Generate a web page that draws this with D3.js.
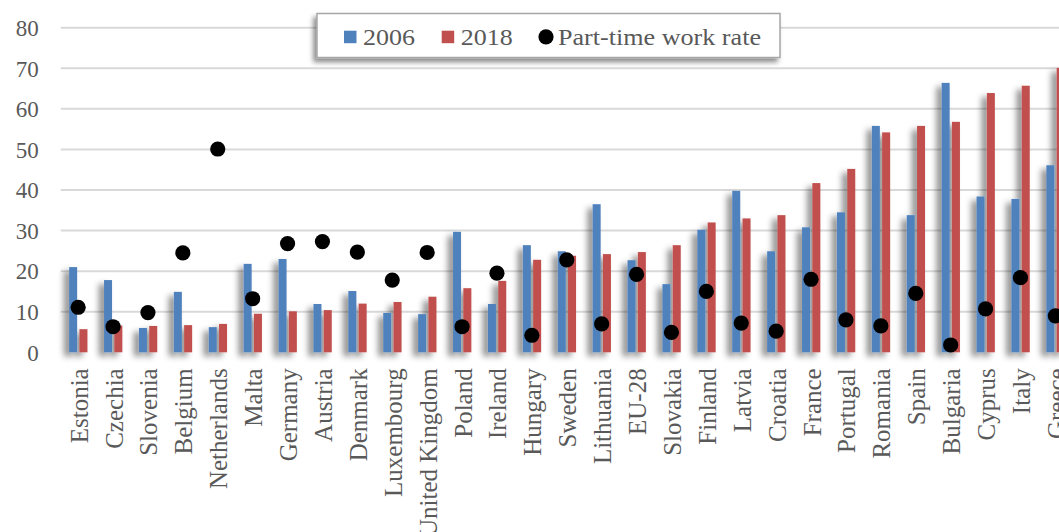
<!DOCTYPE html>
<html>
<head>
<meta charset="utf-8">
<script src="https://cdn.jsdelivr.net/npm/d3@7/dist/d3.min.js"></script>
<style>
  html, body { margin: 0; padding: 0; background: #ffffff; }
  svg { display: block; }
  .tick text { fill: #595959; font-family: "Liberation Serif", "Times New Roman", serif; }
</style>
</head>
<body>
<svg id="chart" width="1059" height="532"></svg>
<script>
// Share of temporary workers by country, 2006 vs 2018, with part-time work rate
const categories = ["Estonia", "Czechia", "Slovenia", "Belgium", "Netherlands", "Malta", "Germany",
  "Austria", "Denmark", "Luxembourg", "United Kingdom", "Poland", "Ireland", "Hungary", "Sweden",
  "Lithuania", "EU-28", "Slovakia", "Finland", "Latvia", "Croatia", "France", "Portugal", "Romania",
  "Spain", "Bulgaria", "Cyprus", "Italy", "Greece"];

const values2006 = [21.0, 17.8, 6.0, 14.9, 6.2, 21.8, 23.0, 11.9, 15.1, 9.7, 9.4, 29.7, 11.9, 26.4, 24.9,
  36.5, 22.7, 16.8, 30.2, 39.8, 24.9, 30.8, 34.5, 55.8, 33.8, 66.4, 38.4, 37.8, 46.1];

const values2018 = [5.7, 6.6, 6.5, 6.7, 7.0, 9.5, 10.1, 10.4, 12.0, 12.4, 13.7, 15.8, 17.6, 22.8, 23.8,
  24.2, 24.7, 26.4, 32.0, 33.0, 33.8, 41.7, 45.2, 54.2, 55.8, 56.8, 63.9, 65.7, 70.1];

const partTimeRate = [11.1, 6.3, 9.8, 24.5, 50.1, 13.2, 26.8, 27.3, 24.7, 17.8, 24.6, 6.3, 19.5, 4.2, 22.8,
  7.0, 19.2, 4.9, 15.0, 7.2, 5.2, 18.0, 8.0, 6.5, 14.5, 1.8, 10.7, 18.4, 9.0];

const yTickValues = [0, 10, 20, 30, 40, 50, 60, 70, 80];

const legendItems = [
  { label: "2006", type: "rect", color: "#4f81bd" },
  { label: "2018", type: "rect", color: "#c0504d" },
  { label: "Part-time work rate", type: "dot", color: "#000000" }
];

const W = 1059, H = 532;
const svg = d3.select("#chart");
const defs = svg.append("defs");

// soft drop shadow used behind bars, axis line and legend
function addShadow(id, dx, dy, blur, opacity) {
  const f = defs.append("filter").attr("id", id)
    .attr("x", "-100%").attr("y", "-20%").attr("width", "300%").attr("height", "140%");
  f.append("feGaussianBlur").attr("in", "SourceAlpha").attr("stdDeviation", blur).attr("result", "b");
  f.append("feOffset").attr("in", "b").attr("dx", dx).attr("dy", dy).attr("result", "o");
  f.append("feFlood").attr("flood-color", "#000").attr("flood-opacity", opacity).attr("result", "c");
  f.append("feComposite").attr("in", "c").attr("in2", "o").attr("operator", "in").attr("result", "s");
  const m = f.append("feMerge");
  m.append("feMergeNode").attr("in", "s");
  m.append("feMergeNode").attr("in", "SourceGraphic");
}
addShadow("barShadow", -5, 4, 3, 0.45);
addShadow("lineShadow", -2, 3, 1.5, 0.3);
addShadow("boxShadow", -3, 4, 2.5, 0.45);

const step = 34.9;
const left = 60.7;
const x = d3.scaleBand().domain(categories).range([left, left + step * categories.length]).padding(0);
const y = d3.scaleLinear().domain([0, 80]).range([352.3, 27.7]);

// horizontal gridlines
svg.append("g").selectAll("line")
  .data(yTickValues.filter(v => v > 0))
  .join("line")
  .attr("x1", left).attr("x2", W)
  .attr("y1", d => y(d)).attr("y2", d => y(d))
  .attr("stroke", "#d9d9d9").attr("stroke-width", 2);

// y axis tick labels
const yAxis = svg.append("g")
  .attr("transform", `translate(${left - 22},0)`)
  .call(d3.axisLeft(y).tickValues(yTickValues).tickSize(0).tickPadding(0));
yAxis.select(".domain").remove();
yAxis.selectAll("text").attr("font-size", 23).attr("dy", "0.34em");

// bars
const bw = 8;
const cx = c => x(c) + x.bandwidth() / 2;
const barsG = svg.append("g").attr("filter", "url(#barShadow)");
barsG.selectAll("rect.b2006")
  .data(categories)
  .join("rect").attr("class", "b2006")
  .attr("x", (d) => cx(d) - bw - 1)
  .attr("width", bw)
  .attr("y", (d, i) => y(values2006[i]))
  .attr("height", (d, i) => y(0) - y(values2006[i]))
  .attr("fill", "#4f81bd");
barsG.selectAll("rect.b2018")
  .data(categories)
  .join("rect").attr("class", "b2018")
  .attr("x", (d) => cx(d) + 1.3)
  .attr("width", bw)
  .attr("y", (d, i) => y(values2018[i]))
  .attr("height", (d, i) => y(0) - y(values2018[i]))
  .attr("fill", "#c0504d");

// category axis baseline
svg.append("line")
  .attr("x1", left).attr("x2", W)
  .attr("y1", y(0)).attr("y2", y(0))
  .attr("stroke", "#c8c8c8").attr("stroke-width", 2)
  .attr("filter", "url(#lineShadow)");

// part-time work rate markers
svg.append("g").selectAll("circle")
  .data(categories)
  .join("circle")
  .attr("cx", d => cx(d))
  .attr("cy", (d, i) => y(partTimeRate[i]))
  .attr("r", 7.6)
  .attr("fill", "#000");

// x axis with rotated category labels
const xAxis = svg.append("g")
  .attr("transform", `translate(0,${y(0)})`)
  .call(d3.axisBottom(x).tickSize(0));
xAxis.select(".domain").remove();
xAxis.selectAll("text")
  .attr("font-size", 25)
  .attr("text-anchor", "end")
  .attr("x", 0).attr("y", 0).attr("dy", 0)
  .attr("transform", "translate(9.5,16) rotate(-90)");

// legend
const lg = svg.append("g");
lg.append("rect")
  .attr("x", 317).attr("y", 13.5).attr("width", 463).attr("height", 44)
  .attr("fill", "#fff").attr("stroke", "#a6a6a6").attr("stroke-width", 1.5)
  .attr("filter", "url(#boxShadow)");
const itemX = [344, 441.7, 538.5];
const itemW = [52, 52, 203];
legendItems.forEach((it, i) => {
  const g = lg.append("g").attr("transform", `translate(${itemX[i]},0)`);
  if (it.type === "rect") {
    g.append("rect").attr("x", 0).attr("y", 30.7).attr("width", 12.5).attr("height", 12.5).attr("fill", it.color);
  } else {
    g.append("circle").attr("cx", 7.5).attr("cy", 36.8).attr("r", 7.6).attr("fill", it.color);
  }
  g.append("text")
    .attr("x", it.type === "rect" ? 19 : 19.5)
    .attr("y", 44.5)
    .attr("font-family", '"Liberation Serif", "Times New Roman", serif')
    .attr("font-size", 24)
    .attr("fill", "#595959")
    .attr("textLength", itemW[i])
    .attr("lengthAdjust", "spacingAndGlyphs")
    .text(it.label);
});
</script>
</body>
</html>
